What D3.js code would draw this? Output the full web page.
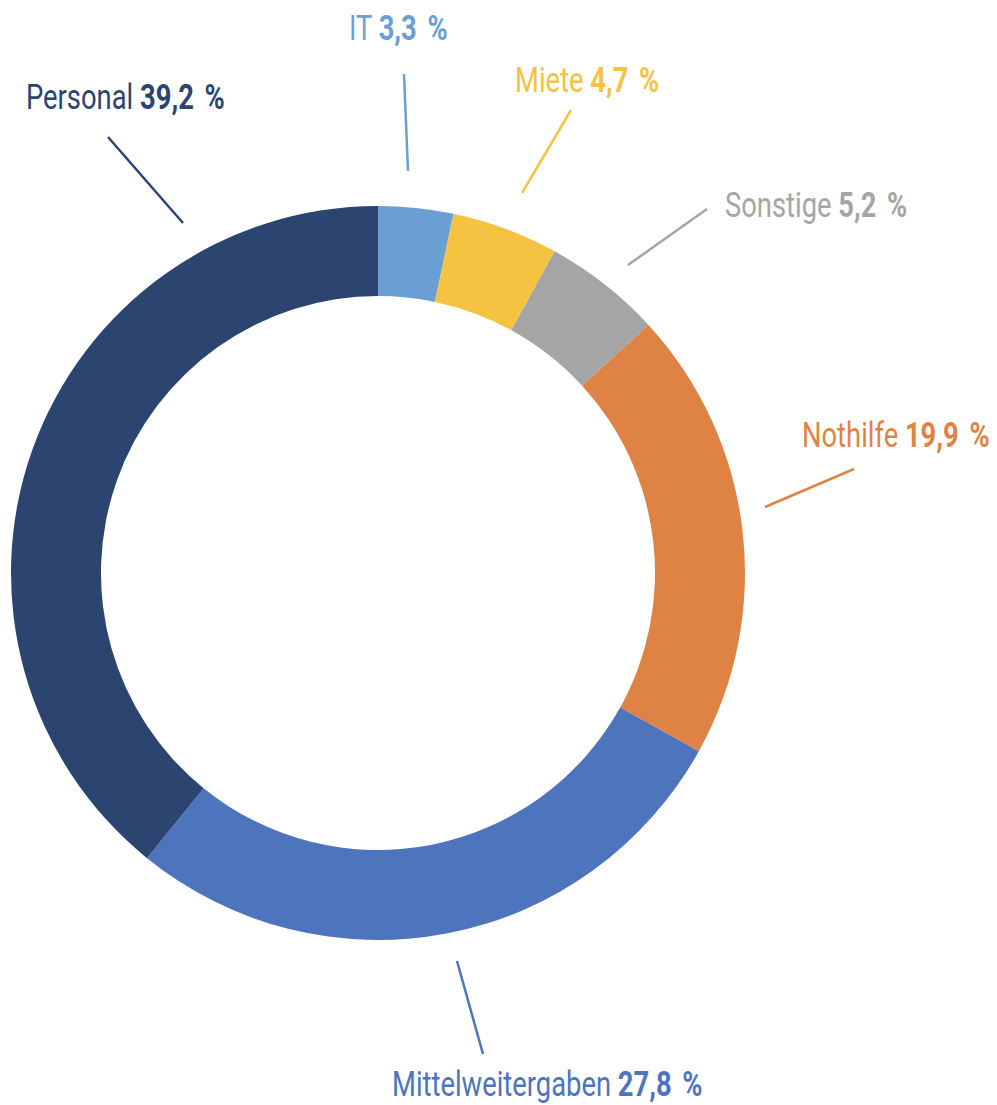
<!DOCTYPE html>
<html>
<head>
<meta charset="utf-8">
<script src="https://cdn.jsdelivr.net/npm/d3@7"></script>
<style>
  html, body { margin: 0; padding: 0; background: #fff; }
  svg { display: block; }
  text { font-family: Roboto, "Noto Sans", sans-serif; }
</style>
</head>
<body>
<svg id="chart" width="997" height="1105"></svg>
<script>
// ---- data ----
const categories = ["IT", "Miete", "Sonstige", "Nothilfe", "Mittelweitergaben", "Personal"];
const values = [3.3, 4.7, 5.2, 19.9, 27.8, 39.2];
const valueLabels = ["3,3", "4,7", "5,2", "19,9", "27,8", "39,2"];
const colors = ["#6A9FD4", "#F5C242", "#A5A5A5", "#DF8344", "#4E74BD", "#2B4570"];

// ---- label layout (leader line: [x1,y1,x2,y2], label anchor: [x, baseline]) ----
const leaderLines = [
  [404, 74, 408, 171],
  [571, 110, 522, 193],
  [707, 209, 628, 265],
  [854, 469, 765, 507],
  [457, 961, 483, 1054],
  [108, 137, 183, 223]
];
const labelAnchors = [
  [349, 40],
  [515, 92],
  [725, 217],
  [802, 447],
  [392, 1096],
  [26, 109]
];

const svg = d3.select("#chart");
const cx = 378, cy = 573, outerR = 367, innerR = 277;

const pie = d3.pie().sort(null).value(d => d.value);
const arc = d3.arc().innerRadius(innerR).outerRadius(outerR);
const data = categories.map((c, i) => ({ name: c, value: values[i], color: colors[i], label: valueLabels[i] }));

const g = svg.append("g").attr("transform", `translate(${cx},${cy})`);
g.selectAll("path").data(pie(data)).join("path")
  .attr("d", arc)
  .attr("fill", d => d.data.color);

svg.selectAll("line.leader").data(data).join("line")
  .attr("class", "leader")
  .attr("x1", (d, i) => leaderLines[i][0]).attr("y1", (d, i) => leaderLines[i][1])
  .attr("x2", (d, i) => leaderLines[i][2]).attr("y2", (d, i) => leaderLines[i][3])
  .attr("stroke", d => d.color).attr("stroke-width", 2.5);

const fontSize = 36, sx = 0.76;
const lbl = svg.selectAll("g.lbl").data(data).join("g")
  .attr("class", "lbl")
  .attr("transform", (d, i) => `translate(${labelAnchors[i][0]},${labelAnchors[i][1]}) scale(${sx},1)`);
const t = lbl.append("text")
  .attr("x", 0).attr("y", 0)
  .attr("font-size", fontSize)
  .attr("fill", d => d.color);
t.append("tspan").attr("font-weight", 400).text(d => d.name + " ");
t.append("tspan").attr("font-weight", 700).text(d => d.label);
t.append("tspan").attr("font-weight", 700).attr("dx", 14).text("%");
</script>
</body>
</html>
